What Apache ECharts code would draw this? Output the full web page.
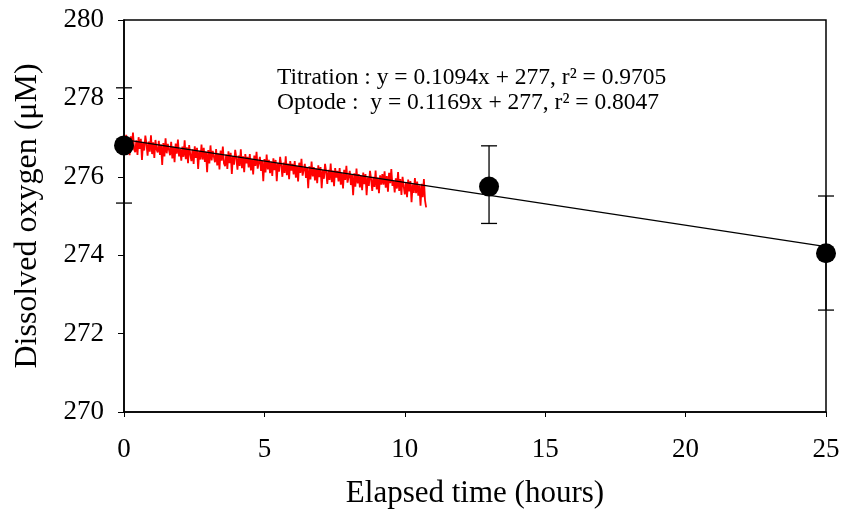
<!DOCTYPE html>
<html>
<head>
<meta charset="utf-8">
<script src="https://cdn.jsdelivr.net/npm/echarts@6/dist/echarts.min.js"></script>
<style>html,body{margin:0;padding:0;background:#fff}#c{width:846px;height:524px}</style>
</head>
<body>
<div id="c"></div>
<script>
// Titration samples: time (h), O2 (µM), error bar low/high
var titrationTime = [0, 13, 25];
var titrationO2 = [276.8, 275.75, 274.05];
var titrationLow = [275.33, 274.81, 272.6];
var titrationHigh = [278.27, 276.79, 275.51];

// Linear fit line end points
var fitTime = [0, 25];
var fitO2 = [276.95, 274.22];

// Optode record: sampling start/interval (h) and values (µM)
var optodeStart = 0;
var optodeStep = 0.04;
var optodeO2 = [
277.00, 276.73, 277.07, 276.65, 276.95, 276.55, 277.03, 276.77, 277.13, 276.70,
276.63, 276.93, 276.56, 277.01, 276.71, 276.97, 276.43, 276.89, 276.67, 277.05,
276.84, 276.54, 276.90, 276.64, 277.06, 276.58, 276.88, 276.48, 276.94, 276.70,
276.62, 276.92, 276.56, 276.82, 276.30, 276.86, 276.52, 276.98, 276.60, 276.84,
276.82, 276.55, 276.89, 276.47, 276.77, 276.37, 276.85, 276.59, 276.95, 276.52,
276.71, 276.41, 276.77, 276.51, 276.93, 276.45, 276.75, 276.35, 276.81, 276.57,
276.40, 276.70, 276.33, 276.78, 276.48, 276.74, 276.20, 276.66, 276.44, 276.82,
276.44, 276.74, 276.38, 276.64, 276.12, 276.68, 276.34, 276.80, 276.42, 276.66,
276.64, 276.37, 276.71, 276.29, 276.59, 276.19, 276.67, 276.41, 276.77, 276.34,
276.27, 276.57, 276.20, 276.65, 276.35, 276.61, 276.07, 276.53, 276.31, 276.69,
276.48, 276.18, 276.54, 276.28, 276.70, 276.22, 276.52, 276.12, 276.58, 276.34,
276.51, 276.24, 276.58, 276.16, 276.46, 276.06, 276.54, 276.28, 276.64, 276.21,
276.21, 276.51, 276.15, 276.41, 275.89, 276.45, 276.11, 276.57, 276.19, 276.43,
276.09, 276.39, 276.02, 276.47, 276.17, 276.43, 275.89, 276.35, 276.13, 276.51,
276.30, 276.00, 276.36, 276.10, 276.52, 276.04, 276.34, 275.94, 276.40, 276.16,
276.33, 276.06, 276.40, 275.98, 276.28, 275.88, 276.36, 276.10, 276.46, 276.03,
276.03, 276.33, 275.97, 276.23, 275.71, 276.27, 275.93, 276.39, 276.01, 276.25,
275.91, 276.21, 275.84, 276.29, 275.99, 276.25, 275.71, 276.17, 275.95, 276.33,
276.12, 275.82, 276.18, 275.92, 276.34, 275.86, 276.16, 275.76, 276.22, 275.98,
276.15, 275.88, 276.22, 275.80, 276.10, 275.70, 276.18, 275.92, 276.28, 275.85,
275.85, 276.15, 275.79, 276.05, 275.53, 276.09, 275.75, 276.21, 275.83, 276.07,
275.73, 276.03, 275.66, 276.11, 275.81, 276.07, 275.53, 275.99, 275.77, 276.15,
275.94, 275.64, 276.00, 275.74, 276.16, 275.68, 275.98, 275.58, 276.04, 275.80,
276.07, 275.80, 276.14, 275.72, 276.02, 275.62, 276.10, 275.84, 276.20, 275.77,
275.90, 275.60, 275.96, 275.70, 276.12, 275.64, 275.94, 275.54, 276.00, 275.76,
275.55, 275.85, 275.48, 275.93, 275.63, 275.89, 275.35, 275.81, 275.59, 275.97,
275.58, 275.88, 275.52, 275.78, 275.26, 275.82, 275.48, 275.94, 275.40, 275.22
];

// Axis settings
var xTicks = [0, 5, 10, 15, 20, 25];
var yTicks = [270, 272, 274, 276, 278, 280];
var xTitle = 'Elapsed time (hours)';
var yTitle = 'Dissolved oxygen (\u03bcM)';
var eqTitration = 'Titration : y = 0.1094x + 277, r\u00b2 = 0.9705';
var eqOptode = 'Optode :  y = 0.1169x + 277, r\u00b2 = 0.8047';

var FONT = '"Liberation Serif", "Times New Roman", serif';

var optodeData = optodeO2.map(function (v, i) { return [optodeStart + i * optodeStep, v]; });
var fitData = fitTime.map(function (t, i) { return [t, fitO2[i]]; });
var pointData = titrationTime.map(function (t, i) { return [t, titrationO2[i]]; });
var errData = titrationTime.map(function (t, i) { return [t, titrationLow[i], titrationHigh[i]]; });

var chart = echarts.init(document.getElementById('c'), null, {renderer: 'canvas'});
chart.setOption({
  animation: false,
  backgroundColor: '#fff',
  grid: {left: 124, right: 20, top: 20, bottom: 112, show: true, borderColor: '#000', borderWidth: 1.5,
         containLabel: false, outerBoundsMode: 'none'},
  xAxis: {
    type: 'value', min: xTicks[0], max: xTicks[xTicks.length - 1], interval: 5,
    name: xTitle, nameLocation: 'middle', nameGap: 66,
    nameTextStyle: {fontFamily: FONT, fontSize: 31, color: '#000'},
    axisLine: {onZero: false, lineStyle: {color: '#000', width: 1.5}},
    axisTick: {show: true, inside: false, length: 5, lineStyle: {color: '#000'}},
    axisLabel: {fontFamily: FONT, fontSize: 27, color: '#000', margin: 24},
    splitLine: {show: false}
  },
  yAxis: {
    type: 'value', min: yTicks[0], max: yTicks[yTicks.length - 1], interval: 2,
    name: yTitle, nameLocation: 'middle', nameGap: 80, nameRotate: 90,
    nameTextStyle: {fontFamily: FONT, fontSize: 32, color: '#000'},
    axisLine: {onZero: false, lineStyle: {color: '#000', width: 1.5}},
    axisTick: {show: true, inside: false, length: 6, lineStyle: {color: '#000'}},
    axisLabel: {fontFamily: FONT, fontSize: 27, color: '#000', margin: 20},
    splitLine: {show: false}
  },
  series: [
    {
      type: 'line', data: optodeData, symbol: 'none', z: 2,
      lineStyle: {color: '#ff0000', width: 1.8}
    },
    {
      type: 'line', data: fitData, symbol: 'none', z: 3,
      lineStyle: {color: '#000', width: 1.2}
    },
    {
      type: 'custom', z: 4,
      data: errData,
      renderItem: function (params, api) {
        var x = api.value(0);
        var lo = api.coord([x, api.value(1)]);
        var hi = api.coord([x, api.value(2)]);
        var hw = 8;
        var st = {stroke: '#000', lineWidth: 1.3};
        return {type: 'group', children: [
          {type: 'line', shape: {x1: lo[0], y1: lo[1], x2: hi[0], y2: hi[1]}, style: st},
          {type: 'line', shape: {x1: lo[0] - hw, y1: lo[1], x2: lo[0] + hw, y2: lo[1]}, style: st},
          {type: 'line', shape: {x1: hi[0] - hw, y1: hi[1], x2: hi[0] + hw, y2: hi[1]}, style: st}
        ]};
      }
    },
    {
      type: 'scatter', data: pointData, symbol: 'circle', symbolSize: 20, z: 5,
      itemStyle: {color: '#000', opacity: 1}
    }
  ],
  graphic: [
    {type: 'text', left: 277, top: 66, style: {text: eqTitration, fontFamily: FONT, fontSize: 23.5, fill: '#000'}},
    {type: 'text', left: 277, top: 91, style: {text: eqOptode, fontFamily: FONT, fontSize: 23.5, fill: '#000'}}
  ]
});
</script>
</body>
</html>
